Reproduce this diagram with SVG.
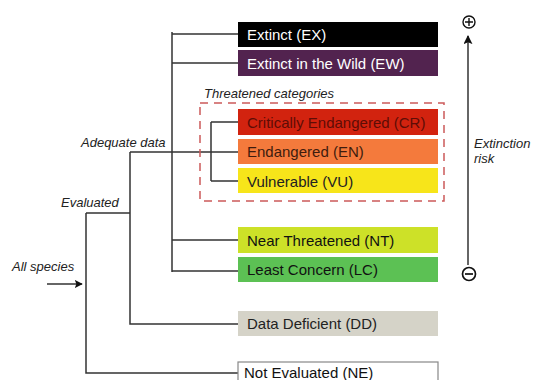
<svg xmlns="http://www.w3.org/2000/svg" width="533" height="380" viewBox="0 0 533 380">
<defs>
<style>
.box{stroke:none}
.lbl{font-family:"Liberation Sans",Arial,sans-serif;font-size:15px}
.it{font-family:"Liberation Sans",Arial,sans-serif;font-size:13px;font-style:italic;fill:#222}
.ln{stroke:#333;stroke-width:1.5;fill:none}
</style>
<marker id="ah" viewBox="0 0 10 10" refX="9" refY="5" markerWidth="8" markerHeight="8" orient="auto" markerUnits="userSpaceOnUse">
<path d="M0,0 L10,5 L0,10 L2,5 Z" fill="#111"/>
</marker>
<marker id="ah2" viewBox="0 0 10 10" refX="9" refY="5" markerWidth="9" markerHeight="9" orient="auto" markerUnits="userSpaceOnUse">
<path d="M0,0 L10,5 L0,10 L2,5 Z" fill="#111"/>
</marker>
</defs>
<rect width="533" height="380" fill="#fff"/>
<g id="connectors">
<path class="ln" d="M172,32 V272 M172,34 H238 M172,63 H238 M172,240 H238 M172,271 H238"/>
<path class="ln" d="M130,152 H238 M130,152 V324 H238"/>
<path class="ln" d="M211,122 V181 M211,122 H238 M211,181 H238"/>
<path class="ln" d="M86,213 H130 M86,213 V373 H238"/>
<path class="ln" d="M47,284 H82" marker-end="url(#ah)"/>
<path class="ln" d="M468,265 V36" marker-end="url(#ah2)"/>
</g>
<g id="threatened">
<rect x="200" y="103" width="244" height="98" fill="none" stroke="#cc5a5a" stroke-width="1.5" stroke-dasharray="8,6"/>
<text class="it" x="204" y="98">Threatened categories</text>
</g>
<g id="ex"><rect class="box" x="238" y="22" width="200" height="25" fill="#000"/><text class="lbl" x="247" y="40" fill="#fff">Extinct (EX)</text></g>
<g id="ew"><rect class="box" x="238" y="50" width="200" height="26" fill="#52234f"/><text class="lbl" x="247" y="68.5" fill="#fff">Extinct in the Wild (EW)</text></g>
<g id="cr"><rect class="box" x="238" y="109" width="200" height="26" fill="#d2230f"/><text class="lbl" x="247" y="127.5" fill="#5e0d06">Critically Endangered (CR)</text></g>
<g id="en"><rect class="box" x="238" y="139" width="200" height="25" fill="#f47a3c"/><text class="lbl" x="247" y="157" fill="#3e1c0e">Endangered (EN)</text></g>
<g id="vu"><rect class="box" x="238" y="168" width="200" height="25" fill="#f7e51a"/><text class="lbl" x="247" y="186.5" fill="#222">Vulnerable (VU)</text></g>
<g id="nt"><rect class="box" x="238" y="227" width="200" height="26" fill="#cde128"/><text class="lbl" x="247" y="245.5" fill="#111">Near Threatened (NT)</text></g>
<g id="lc"><rect class="box" x="238" y="257" width="200" height="25" fill="#5cc154"/><text class="lbl" x="247" y="275" fill="#111">Least Concern (LC)</text></g>
<g id="dd"><rect class="box" x="238" y="311" width="200" height="25" fill="#d5d3c8"/><text class="lbl" x="247" y="329" fill="#222">Data Deficient (DD)</text></g>
<g id="ne"><rect x="238" y="362" width="200" height="30" fill="#fff" stroke="#888" stroke-width="1.2"/><text class="lbl" x="244" y="378" fill="#111">Not Evaluated (NE)</text></g>
<g id="labels">
<text class="it" x="81" y="147">Adequate data</text>
<text class="it" x="61" y="207">Evaluated</text>
<text class="it" x="12" y="271">All species</text>
<text class="it" x="474" y="148">Extinction</text>
<text class="it" x="474" y="163">risk</text>
</g>
<g id="plus" stroke="#111" stroke-width="1.4" fill="none">
<circle cx="469" cy="22" r="6"/><path d="M465,22 H473 M469,18 V26"/>
</g>
<g id="minus" stroke="#111" stroke-width="1.7" fill="none">
<circle cx="469" cy="274" r="6.5"/><path d="M465,274 H473"/>
</g>
</svg>
